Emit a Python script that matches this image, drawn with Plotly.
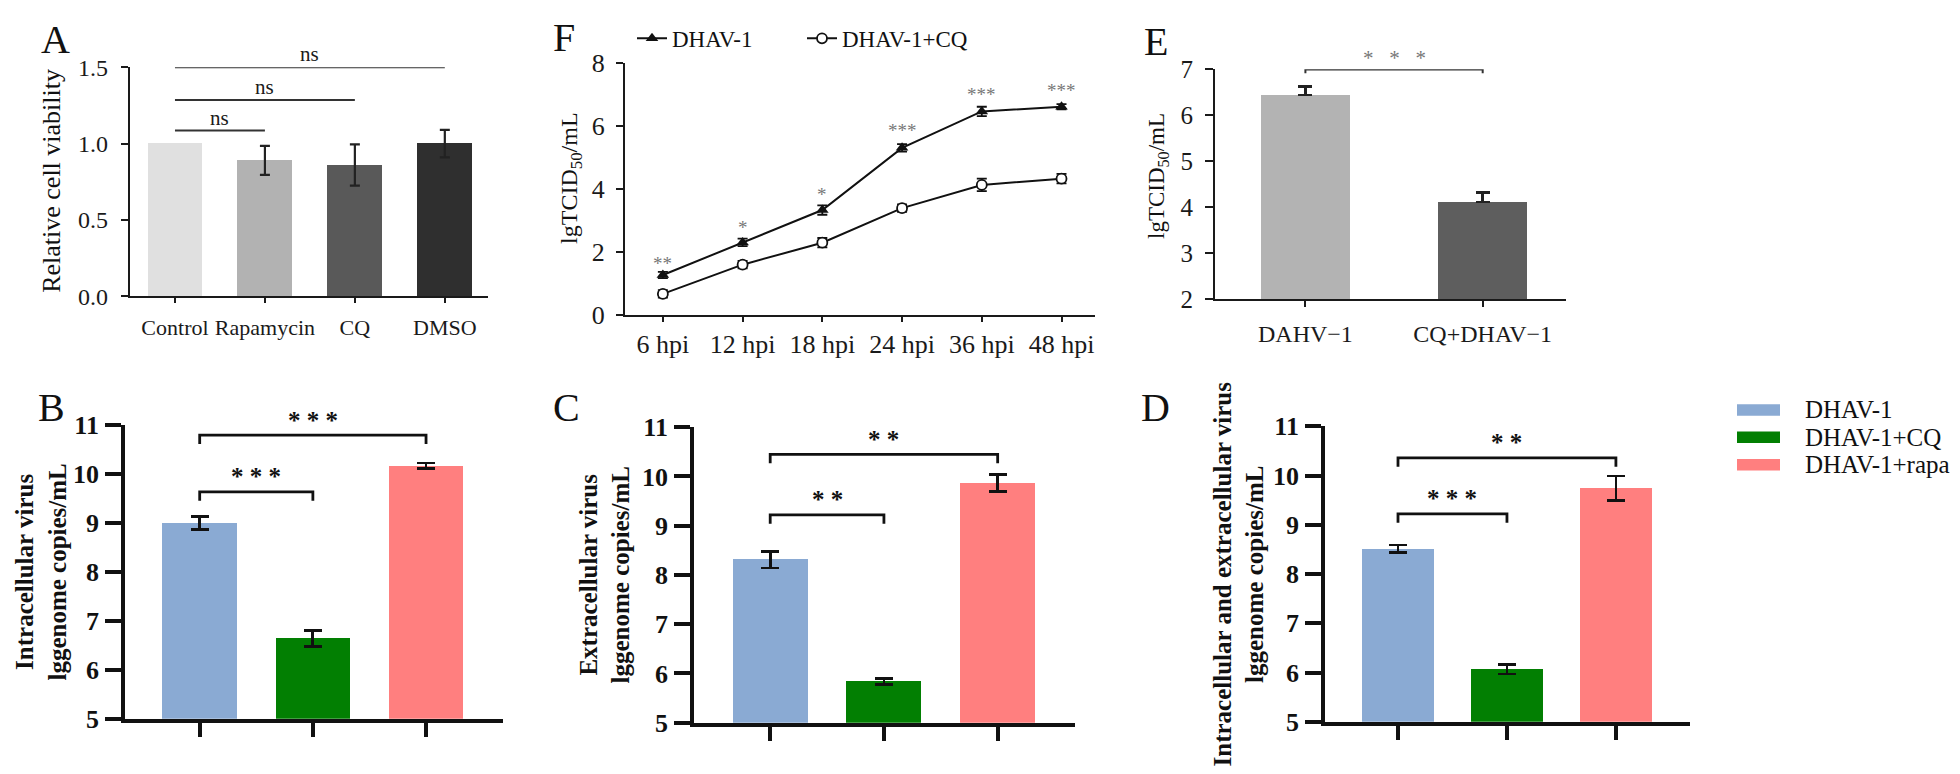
import plotly.graph_objects as go

W, H = 1960, 774
def fx(p): return p / W
def fy(p): return 1 - p / H

SERIF = "Liberation Serif, Times New Roman, serif"

# ---------------- Data ----------------
# Panel A
a_categories = ["Control", "Rapamycin", "CQ", "DMSO"]
a_values = [1.00, 0.89, 0.86, 1.00]
a_errors = [None, 0.095, 0.135, 0.09]
a_colors = ["#e0e0e0", "#b2b2b2", "#595959", "#2f2f2f"]
a_ns = [(0, 1, 1.085), (0, 2, 1.285), (0, 3, 1.50)]

# Panel F
f_times = ["6 hpi", "12 hpi", "18 hpi", "24 hpi", "36 hpi", "48 hpi"]
f_dhav = [1.26, 2.30, 3.33, 5.31, 6.47, 6.62]
f_dhav_err = [0.10, 0.12, 0.15, 0.12, 0.15, 0.08]
f_cq = [0.66, 1.59, 2.29, 3.39, 4.13, 4.33]
f_cq_err = [0.12, 0.12, 0.15, 0.12, 0.20, 0.15]
f_sig = ["**", "*", "*", "***", "***", "***"]
f_sig_y = [1.62, 2.78, 3.82, 5.86, 7.02, 7.15]
f_series = ["DHAV-1", "DHAV-1+CQ"]

# Panel E
e_categories = ["DAHV\u22121", "CQ+DHAV\u22121"]
e_values = [6.44, 4.11]
e_errors = [0.18, 0.21]
e_colors = ["#b3b3b3", "#5e5e5e"]

# Panels B, C, D
groups = ["DHAV-1", "DHAV-1+CQ", "DHAV-1+rapa"]
group_colors = ["#8aaad3", "#027f02", "#ff7f7f"]
b_values = [9.00, 6.64, 10.17]
b_errors = [0.13, 0.16, 0.06]
c_values = [8.31, 5.84, 9.87]
c_errors = [0.17, 0.06, 0.17]
d_values = [8.51, 6.07, 9.74]
d_errors = [0.08, 0.10, 0.25]
b_brackets = [(0, 1, "* * *", 9.64), (0, 2, "* * *", 10.80)]
c_brackets = [(0, 1, "* *", 9.22), (0, 2, "* *", 10.45)]
d_brackets = [(0, 1, "* * *", 9.22), (0, 2, "* *", 10.36)]

fig = go.Figure()

# ---------------- Panel A ----------------
fig.add_trace(go.Bar(x=a_categories, y=a_values, marker_color=a_colors, width=0.61,
                     marker_line_width=0, showlegend=False, xaxis="x", yaxis="y"))
ax_err = [(c, v, e) for c, v, e in zip(a_categories, a_values, a_errors) if e is not None]
fig.add_trace(go.Scatter(x=[t[0] for t in ax_err], y=[t[1] for t in ax_err], mode="markers",
                         marker=dict(size=1, color="rgba(0,0,0,0)"), showlegend=False,
                         error_y=dict(type="data", array=[t[2] for t in ax_err], width=5,
                                      thickness=2.2, color="#222"),
                         xaxis="x", yaxis="y"))

# ---------------- Panel F ----------------
fig.add_trace(go.Scatter(x=f_times, y=f_dhav, mode="lines+markers", name=f_series[0],
                         line=dict(color="#111", width=2),
                         marker=dict(symbol="triangle-up", size=11, color="#111"),
                         error_y=dict(type="data", array=f_dhav_err, width=5, thickness=1.8, color="#111"),
                         xaxis="x2", yaxis="y2", legend="legend"))
fig.add_trace(go.Scatter(x=f_times, y=f_cq, mode="lines+markers", name=f_series[1],
                         line=dict(color="#111", width=2),
                         marker=dict(symbol="circle", size=10, color="white",
                                     line=dict(color="#111", width=1.8)),
                         error_y=dict(type="data", array=f_cq_err, width=5, thickness=1.8, color="#111"),
                         xaxis="x2", yaxis="y2", legend="legend"))

# ---------------- Panel E ----------------
fig.add_trace(go.Bar(x=e_categories, y=[v - 2 for v in e_values], base=2, marker_color=e_colors,
                     width=0.5, marker_line_width=0, showlegend=False,
                     error_y=dict(type="data", array=e_errors, arrayminus=[0] * len(e_errors),
                                  symmetric=False, width=7, thickness=2.4, color="#222"),
                     xaxis="x3", yaxis="y3"))

# ---------------- Panels B, C, D ----------------
for vals, errs, xa, ya in [(b_values, b_errors, "x4", "y4"),
                           (c_values, c_errors, "x5", "y5"),
                           (d_values, d_errors, "x6", "y6")]:
    fig.add_trace(go.Bar(x=groups, y=[v - 5 for v in vals], base=5, marker_color=group_colors,
                         width=0.66, marker_line_width=0, showlegend=False,
                         error_y=dict(type="data", array=errs, width=9, thickness=2.8, color="#111"),
                         xaxis=xa, yaxis=ya))

# ---------------- Axes ----------------
def thin_axis(size=24, **kw):
    d = dict(showline=True, linecolor="#1a1a1a", linewidth=2.2, ticks="outside", tickcolor="#1a1a1a",
             tickwidth=2.2, showgrid=False, zeroline=False, fixedrange=True,
             tickfont=dict(family=SERIF, size=size, color="#1a1a1a"))
    d.update(kw)
    return d

def bold_axis(**kw):
    d = dict(showline=True, linecolor="#111", linewidth=3.8, ticks="outside", tickcolor="#111",
             tickwidth=3.8, showgrid=False, zeroline=False, fixedrange=True,
             tickfont=dict(family=SERIF, size=26, color="#111", weight="bold"))
    d.update(kw)
    return d

layout_axes = dict(
    xaxis=thin_axis(22, domain=[fx(122), fx(480)], range=[-0.5, 3.48], anchor="y", ticklen=5,
                    ticklabelstandoff=5, tickangle=0),
    yaxis=thin_axis(24, domain=[fy(285), fy(47)], range=[0, 1.5], anchor="x", ticklen=7,
                    tickvals=[0, 0.5, 1.0, 1.5], tickformat=".1f", ticklabelstandoff=8),
    xaxis2=thin_axis(26, domain=[fx(617), fx(1087)], range=[-0.475, 5.42], anchor="y2", ticklen=5,
                     tickangle=0),
    yaxis2=thin_axis(26, domain=[fy(304), fy(43)], range=[0, 8], anchor="x2", ticklen=7,
                     tickvals=[0, 2, 4, 6, 8], ticklabelstandoff=6),
    xaxis3=thin_axis(24, domain=[fx(1207), fx(1558)], range=[-0.51, 1.47], anchor="y3", ticklen=6,
                     ticklabelstandoff=6, tickangle=0),
    yaxis3=thin_axis(25, domain=[fy(288), fy(49)], range=[2, 7], anchor="x3", ticklen=8,
                     tickvals=[2, 3, 4, 5, 6, 7], ticklabelstandoff=7),
    xaxis4=bold_axis(domain=[fx(117), fx(495)], range=[-0.66, 2.68], anchor="y4", ticklen=14,
                     showticklabels=False),
    yaxis4=bold_axis(domain=[fy(724), fy(419)], range=[5, 11], anchor="x4", ticklen=16,
                     tickvals=[5, 6, 7, 8, 9, 10, 11], ticklabelstandoff=1),
    xaxis5=bold_axis(domain=[fx(686), fx(1067)], range=[-0.67, 2.68], anchor="y5", ticklen=14,
                     showticklabels=False),
    yaxis5=bold_axis(domain=[fy(728), fy(421)], range=[5, 11], anchor="x5", ticklen=16,
                     tickvals=[5, 6, 7, 8, 9, 10, 11], ticklabelstandoff=1),
    xaxis6=bold_axis(domain=[fx(1317), fx(1682)], range=[-0.67, 2.68], anchor="y6", ticklen=14,
                     showticklabels=False),
    yaxis6=bold_axis(domain=[fy(727), fy(420)], range=[5, 11], anchor="x6", ticklen=16,
                     tickvals=[5, 6, 7, 8, 9, 10, 11], ticklabelstandoff=1),
)

shapes = []
annotations = []

# A: ns lines
for i, j, yv in a_ns:
    shapes.append(dict(type="line", xref="x", yref="y", x0=i, x1=j, y0=yv, y1=yv,
                       line=dict(color="#333", width=2)))
    annotations.append(dict(xref="x", yref="y", x=(i + j) / 2, y=yv, text="ns", showarrow=False,
                            yanchor="middle", yshift=13, font=dict(family=SERIF, size=21, color="#1a1a1a")))

# F: significance stars
for k, (s, yv) in enumerate(zip(f_sig, f_sig_y)):
    annotations.append(dict(xref="x2", yref="y2", x=k, y=yv, text=s, showarrow=False,
                            font=dict(family=SERIF, size=19, color="#777")))

# E: bracket
shapes.append(dict(type="path", xref="x3", yref="y3",
                   path="M 0,6.91 L 0,6.99 L 1,6.99 L 1,6.91", line=dict(color="#333", width=2)))
annotations.append(dict(xref="x3", yref="y3", x=0.5, y=6.99, text="*   *   *", showarrow=False,
                        yshift=12, font=dict(family=SERIF, size=21, color="#777")))

# B, C, D brackets
for brs, xa, ya in [(b_brackets, "x4", "y4"), (c_brackets, "x5", "y5"), (d_brackets, "x6", "y6")]:
    for i, j, s, yv in brs:
        shapes.append(dict(type="path", xref=xa, yref=ya,
                           path=f"M {i},{yv - 0.18} L {i},{yv} L {j},{yv} L {j},{yv - 0.18}",
                           line=dict(color="#111", width=2.8)))
        annotations.append(dict(xref=xa, yref=ya, x=(i + j) / 2, y=yv, text="<b>" + s + "</b>",
                                showarrow=False, yshift=15,
                                font=dict(family=SERIF, size=25, color="#111")))

# Axis titles
titles = [
    ("Relative cell viability", 44, 165, 26, False),
    ("lgTCID<sub>50</sub>/mL", 563, 163, 24, False),
    ("lgTCID<sub>50</sub>/mL", 1150, 160, 23, False),
    ("Intracellular virus<br>lggenome copies/mL", 33, 572, 25, True),
    ("Extracellular virus<br>lggenome copies/mL", 597, 575, 25, True),
    ("Intracellular and extracellular virus<br>lggenome copies/mL", 1231, 574, 25, True),
]
for t, px, py, sz, bold in titles:
    annotations.append(dict(xref="paper", yref="paper", x=fx(px), y=fy(py),
                            text=("<b>" + t + "</b>") if bold else t, textangle=-90,
                            showarrow=False, xanchor="center", yanchor="middle",
                            font=dict(family=SERIF, size=sz, color="#111")))

# Panel letters
for letter, px, py in [("A", 47, 18), ("F", 556, 16), ("E", 1148, 20),
                       ("B", 43, 400), ("C", 558, 400), ("D", 1147, 400)]:
    annotations.append(dict(xref="paper", yref="paper", x=fx(px), y=fy(py), text=letter,
                            showarrow=False, xanchor="center", yanchor="middle",
                            font=dict(family=SERIF, size=40, color="#111")))

# Right legend (B, C, D)
for k, (g, col) in enumerate(zip(groups, group_colors)):
    yc = 403 + k * 28.5
    shapes.append(dict(type="rect", xref="paper", yref="paper", x0=fx(1729), x1=fx(1772),
                       y0=fy(yc + 6), y1=fy(yc - 6), fillcolor=col, line=dict(width=0)))
    annotations.append(dict(xref="paper", yref="paper", x=fx(1795), y=fy(yc), text=g,
                            showarrow=False, xanchor="left", yanchor="middle",
                            font=dict(family=SERIF, size=25, color="#111")))

fig.update_layout(
    width=W, height=H, margin=dict(l=0, r=0, t=0, b=0),
    paper_bgcolor="white", plot_bgcolor="white",
    bargap=0,
    shapes=shapes, annotations=annotations,
    legend=dict(orientation="h", x=fx(624), y=fy(17), xanchor="left", yanchor="middle",
                font=dict(family=SERIF, size=23, color="#111"), bgcolor="rgba(0,0,0,0)",
                itemwidth=30, entrywidth=125, entrywidthmode="pixels", tracegroupgap=0),
    **layout_axes,
)

fig.write_html("out.html")
